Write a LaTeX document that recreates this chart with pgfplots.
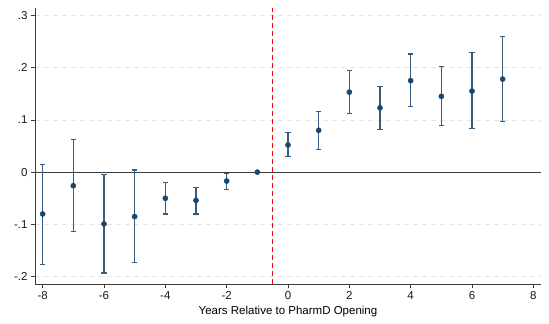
\documentclass[border=0pt]{standalone}
\usepackage{fontspec}
\setmainfont{Liberation Sans}
\usepackage{pgfplots}
\usepackage{pgfplotstable}
\pgfplotsset{compat=1.18}
\definecolor{navy}{RGB}{26,71,111}
\definecolor{barc}{RGB}{55,90,128}
\definecolor{axc}{RGB}{60,60,60}
\pgfplotstableread{
x y lo hi
-8 -0.080 -0.176 0.015
-7 -0.026 -0.114 0.063
-6 -0.099 -0.193 -0.004
-5 -0.085 -0.173 0.004
-4 -0.050 -0.080 -0.019
-3 -0.054 -0.080 -0.029
-2 -0.017 -0.033 -0.002
0 0.052 0.030 0.075
1 0.080 0.043 0.116
2 0.153 0.112 0.194
3 0.123 0.082 0.163
4 0.175 0.125 0.226
5 0.145 0.089 0.202
6 0.155 0.084 0.228
7 0.178 0.097 0.259
}\est
\pgfplotstableread{
x y
-1 0
}\base
\begin{document}
\begin{tikzpicture}
\useasboundingbox (-35pt,-40pt) rectangle (514pt,284pt);
\begin{axis}[
  at={(0,0)}, anchor=south west,
  scale only axis, width=506pt, height=276pt,
  xmin=-8.25, xmax=8.25, ymin=-0.214, ymax=0.314,
  axis x line*=bottom, axis y line*=left,
  axis line style={axc, line width=0.8pt, -},
  xtick={-8,-6,-4,-2,0,2,4,6,8},
  xticklabels={-8,-6,-4,-2,0,2,4,6,8},
  ytick={-0.2,-0.1,0,0.1,0.2,0.3},
  yticklabels={-.2,-.1,0,.1,.2,.3},
  tick align=outside, major tick length=4pt,
  tick style={axc, line width=0.6pt},
  ymajorgrids, major grid style={dashed, dash pattern=on 5pt off 4pt, color=black!10, line width=0.7pt},
  tick label style={font=\fontsize{11.5}{13}\selectfont, text=black!90},
  xticklabel style={yshift=0pt},
  yticklabel style={xshift=0pt},
  xlabel={Years Relative to PharmD Opening},
  xlabel style={font=\fontsize{11.5}{13}\selectfont, yshift=0pt},
  clip=false,
]
\draw[axc, line width=0.8pt] (axis cs:-8.25,0) -- (axis cs:8.25,0);
\draw[red, line width=0.9pt, dash pattern=on 5pt off 3pt] (axis cs:-0.5,-0.214) -- (axis cs:-0.5,0.314);
\addplot[draw=none, mark=none, forget plot,
  error bars/.cd, y dir=both, y explicit,
  error bar style={barc, line width=1.2pt},
  error mark options={barc, rotate=90, mark size=2.8pt, line width=1.1pt}]
  table[x=x, y=y, y error plus expr=\thisrow{hi}-\thisrow{y}, y error minus expr=\thisrow{y}-\thisrow{lo}] {\est};
\addplot[only marks, mark=*, mark size=2.6pt, navy, mark options={fill=navy, draw=navy}] table[x=x,y=y] {\est};
\addplot[only marks, mark=*, mark size=2.6pt, navy, mark options={fill=navy, draw=navy}] table[x=x,y=y] {\base};
\end{axis}
\end{tikzpicture}
\end{document}
